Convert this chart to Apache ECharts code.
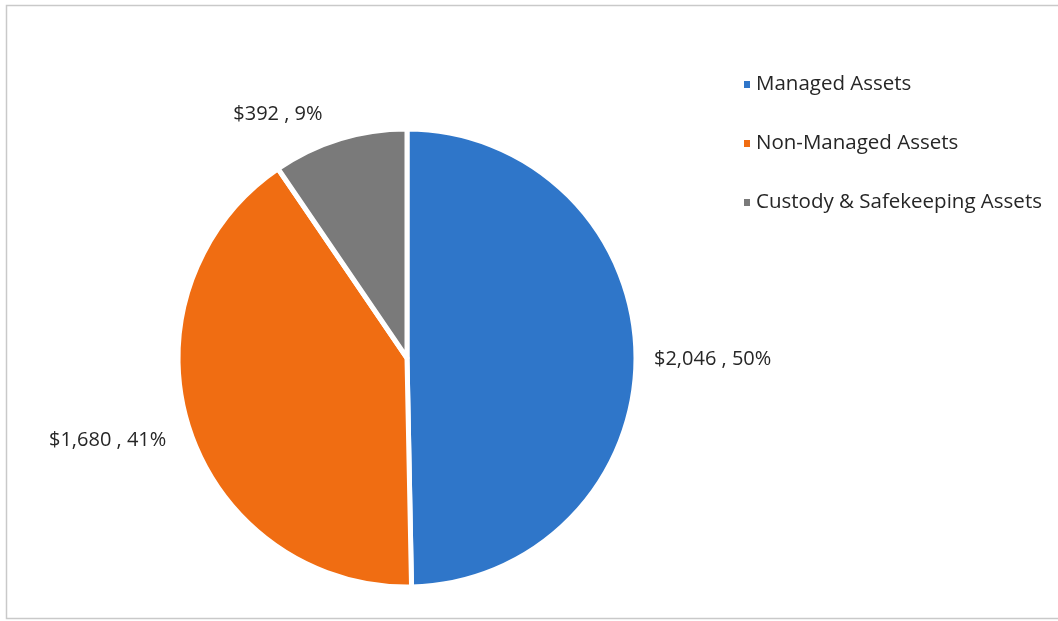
<!DOCTYPE html>
<html>
<head>
<meta charset="utf-8">
<script src="https://cdn.jsdelivr.net/npm/echarts@6/dist/echarts.min.js"></script>
<style>
  html, body { margin: 0; padding: 0; background: #ffffff; }
  #chart { width: 1058px; height: 621px; }
</style>
</head>
<body>
<div id="chart"></div>
<script>
// Asset categories, their values ($) and reported share of the total (%)
const categories = ['Managed Assets', 'Non-Managed Assets', 'Custody & Safekeeping Assets'];
const assetValues = [2046, 1680, 392];
const sharePct = [50, 41, 9];
const sliceColors = ['#2f76c9', '#f06d12', '#7a7a7a'];

// small per-slice nudges for the outside data labels [dx, dy]
const labelNudge = [[-3, 4], [-2, 10], [-3, -15]];

const FONT = '"Open Sans", Lato, sans-serif';
const pieData = categories.map((name, i) => ({ name: name, value: assetValues[i] }));
const fmtMoney = v => '$' + v.toLocaleString('en-US');

const chart = echarts.init(document.getElementById('chart'), null, { renderer: 'canvas' });

chart.setOption({
  backgroundColor: '#ffffff',
  color: sliceColors,
  animation: false,
  textStyle: { fontFamily: FONT },
  graphic: [{
    type: 'rect',
    shape: { x: 6.5, y: 5.5, width: 1060, height: 613 },
    style: { fill: 'none', stroke: '#c9c9c9', lineWidth: 1.5 },
    silent: true
  }],
  legend: {
    orient: 'vertical',
    left: 737,
    top: 69,
    itemWidth: 8,
    itemHeight: 9,
    itemGap: 38,
    icon: 'rect',
    textStyle: { fontSize: 20.5, color: '#262626', fontFamily: FONT },
    data: categories
  },
  series: [{
    type: 'pie',
    center: [407, 358],
    radius: [0, 229],
    startAngle: 90,
    clockwise: true,
    data: pieData,
    itemStyle: { borderColor: '#ffffff', borderWidth: 5 },
    label: {
      show: true,
      position: 'outside',
      fontSize: 20,
      color: '#262626',
      fontFamily: FONT,
      formatter: p => fmtMoney(p.value) + ' , ' + sharePct[p.dataIndex] + '%'
    },
    labelLine: { show: false, length: 10, length2: 6 },
    labelLayout: p => ({ dx: labelNudge[p.dataIndex][0], dy: labelNudge[p.dataIndex][1] }),
    emphasis: { disabled: true }
  }]
});
</script>
</body>
</html>
